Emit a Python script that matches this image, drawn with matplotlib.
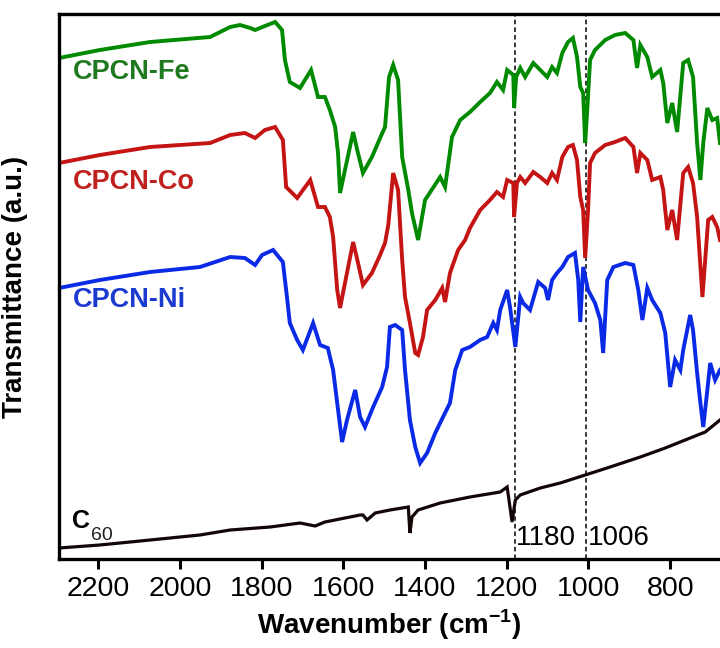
import numpy as np
import matplotlib
matplotlib.use("Agg")
import matplotlib.pyplot as plt

plt.rcParams['font.family'] = ['Liberation Sans', 'DejaVu Sans']

# --------------------------------------------------
# FTIR spectra (wavenumber in cm^-1, transmittance in a.u., stacked)
# --------------------------------------------------
fe_wn = [2296, 2196, 2073, 1926, 1877, 1853, 1828, 1816, 1792, 1767, 1750, 1743, 1731, 1706,
         1679, 1662, 1645, 1633, 1620, 1613, 1608, 1596, 1576, 1566, 1552, 1530, 1510, 1498,
         1488, 1478, 1466, 1456, 1441, 1432, 1417, 1400, 1363, 1351, 1334, 1314, 1290, 1265,
         1241, 1224, 1209, 1199, 1184, 1182, 1177, 1167, 1155, 1135, 1118, 1101, 1089, 1077,
         1064, 1050, 1038, 1028, 1020, 1013, 1008, 1003, 996, 984, 959, 935, 910, 890, 881,
         873, 856, 844, 824, 817, 807, 795, 783, 768, 756, 744, 734, 726, 719, 709, 697, 685, 678]
fe_t = [501, 509, 517, 522, 532, 534, 531, 529, 533, 537, 529, 499, 477, 471,
        489, 462, 462, 449, 432, 406, 366, 389, 427, 409, 386, 402, 421, 432,
        482, 494, 479, 402, 369, 346, 319, 359, 382, 372, 422, 439, 447, 457,
        466, 477, 469, 489, 484, 451, 482, 491, 482, 496, 489, 482, 492, 486,
        506, 517, 521, 502, 472, 466, 416, 449, 499, 509, 519, 524, 526, 519, 491,
        514, 502, 482, 489, 476, 436, 456, 427, 496, 499, 482, 416, 379, 416, 451, 439, 441, 416]

co_wn = [2296, 2196, 2073, 1926, 1877, 1841, 1816, 1792, 1767, 1748, 1740, 1713, 1681, 1662,
         1645, 1633, 1625, 1615, 1608, 1596, 1576, 1564, 1552, 1530, 1510, 1498, 1490, 1478,
         1466, 1456, 1449, 1437, 1424, 1417, 1405, 1395, 1375, 1358, 1351, 1339, 1319, 1302,
         1290, 1265, 1241, 1224, 1209, 1199, 1184, 1182, 1175, 1167, 1155, 1135, 1118, 1101,
         1089, 1077, 1064, 1050, 1038, 1028, 1020, 1013, 1008, 1001, 996, 984, 959, 935, 910,
         890, 881, 873, 856, 844, 824, 817, 807, 795, 783, 768, 756, 744, 734, 721, 707, 697,
         685, 678]
co_t = [396, 404, 412, 416, 424, 426, 421, 429, 432, 419, 372, 361, 379, 352,
        352, 342, 322, 269, 251, 276, 317, 296, 274, 286, 304, 316, 334, 386,
        369, 299, 262, 236, 206, 204, 222, 249, 259, 271, 257, 286, 309, 319,
        331, 349, 359, 367, 362, 379, 376, 342, 376, 382, 376, 387, 382, 376,
        386, 379, 402, 412, 414, 399, 362, 349, 301, 349, 396, 406, 414, 417, 421,
        412, 386, 406, 399, 379, 382, 369, 329, 349, 319, 386, 392, 376, 342, 262, 339, 342,
        332, 319]

ni_wn = [2296, 2196, 2073, 1951, 1877, 1841, 1816, 1799, 1772, 1748, 1738, 1731, 1713, 1699,
         1674, 1657, 1638, 1625, 1615, 1603, 1591, 1571, 1559, 1547, 1527, 1505, 1493, 1486,
         1473, 1456, 1449, 1437, 1424, 1412, 1395, 1375, 1356, 1339, 1326, 1309, 1290, 1265,
         1248, 1233, 1224, 1216, 1199, 1192, 1179, 1167, 1160, 1143, 1123, 1106, 1099, 1089,
         1077, 1064, 1050, 1033, 1025, 1020, 1013, 1001, 984, 971, 964, 954, 939, 910, 890,
         878, 868, 856, 844, 824, 812, 800, 788, 775, 768, 751, 744, 734, 726, 719, 709, 702,
         690, 678]
ni_t = [271, 279, 287, 292, 302, 301, 294, 304, 309, 297, 262, 236, 219, 209,
        236, 214, 211, 189, 156, 117, 139, 169, 142, 132, 152, 172, 192, 232,
        234, 229, 189, 139, 112, 96, 106, 126, 142, 156, 189, 209, 212, 219,
        222, 236, 229, 249, 269, 252, 212, 262, 256, 249, 277, 271, 259, 279,
        286, 292, 302, 306, 279, 237, 292, 269, 256, 239, 206, 279, 292, 296, 294,
        269, 239, 271, 259, 246, 226, 172, 199, 189, 209, 244, 229, 186, 156, 132, 169, 196,
        179, 189]

c60_wn = [2296, 2196, 2122, 2024, 1951, 1877, 1779, 1706, 1669, 1645, 1596, 1559, 1552, 1542,
          1522, 1486, 1441, 1437, 1432, 1417, 1363, 1290, 1216, 1199, 1187, 1179, 1167, 1118,
          1069, 1008, 947, 873, 812, 751, 714, 678]
c60_t = [11, 14, 17, 21, 24, 29, 32, 36, 33, 37, 41, 44, 44, 39,
         46, 49, 52, 26, 42, 49, 56, 62, 67, 72, 37, 59, 64, 71,
         76, 84, 92, 102, 111, 121, 127, 139]

marked_peaks = [1180, 1006]

# --------------------------------------------------
# Figure
# --------------------------------------------------
fig = plt.figure(figsize=(7.2, 6.48), dpi=100)
ax = fig.add_axes([59 / 720, 89 / 648, 661 / 720, 545 / 648])

ax.plot(fe_wn, fe_t, color="#008a00", lw=2.8, solid_joinstyle="miter")
ax.plot(co_wn, co_t, color="#c41414", lw=2.8, solid_joinstyle="miter")
ax.plot(ni_wn, ni_t, color="#0a2ae6", lw=2.8, solid_joinstyle="miter")
ax.plot(c60_wn, c60_t, color="#140606", lw=2.3, solid_joinstyle="miter")

for wn in marked_peaks:
    ax.axvline(wn, color="black", lw=1.1, ls=(0, (3, 2)), zorder=0)

ax.set_xlim(2296, 678)
ax.set_ylim(0, 545)

# sample labels
lab_kw = dict(fontsize=19.5, fontweight="bold", ha="left", va="center")
ax.text(2262, 487, "CPCN-Fe", color="#1f7a1f", **lab_kw)
ax.text(2262, 377, "CPCN-Co", color="#c0201e", **lab_kw)
ax.text(2262, 259, "CPCN-Ni", color="#1a3ad0", **lab_kw)
ax.text(2264, 38, "C", color="black", fontsize=18, fontweight="bold",
        ha="left", va="center")
ax.text(2217, 24, "60", color="#222222", fontsize=14, ha="left", va="center")

# peak positions
ax.text(1178, 21, "1180", fontsize=20, ha="left", va="center")
ax.text(1002, 21, "1006", fontsize=20, ha="left", va="center")

ax.set_xticks([2200, 2000, 1800, 1600, 1400, 1200, 1000, 800])
ax.set_yticks([])
ax.tick_params(axis="x", direction="out", length=7, width=2.2, labelsize=20.5, pad=5)

for side in ["left", "bottom", "top"]:
    ax.spines[side].set_linewidth(2.4)
ax.spines["right"].set_visible(False)

ax.set_xlabel(r"Wavenumber (cm$^{\mathregular{-1}}$)", fontsize=20, fontweight="bold", labelpad=4)
ax.set_ylabel("Transmittance (a.u.)", fontsize=20, fontweight="bold")
ax.yaxis.set_label_coords(-0.047, 0.5)

fig.savefig("out.png", dpi=100)
